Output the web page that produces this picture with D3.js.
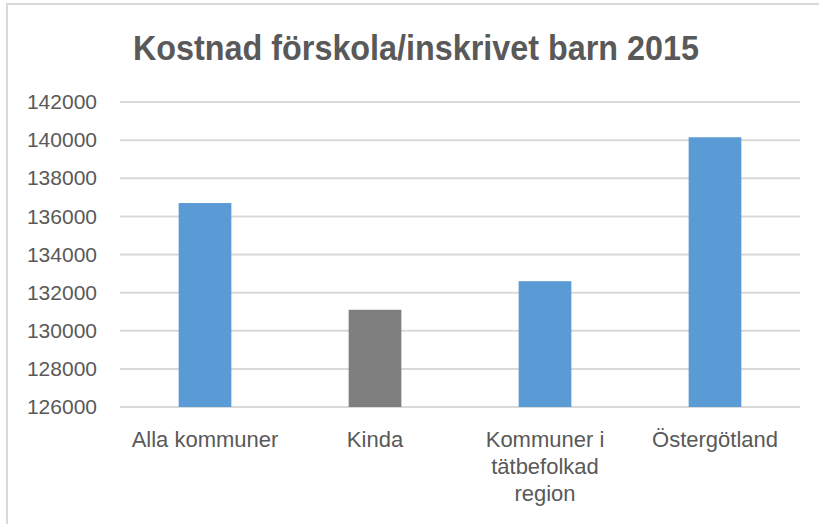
<!DOCTYPE html>
<html>
<head>
<meta charset="utf-8">
<script src="https://cdn.jsdelivr.net/npm/d3@7"></script>
<style>
  body { margin: 0; background: #fff; }
  .tick text { font-family: "Liberation Sans", Arial, sans-serif; font-size: 21px; fill: #595959; }
  .cat { font-family: "Liberation Sans", Arial, sans-serif; font-size: 22px; fill: #595959; }
  .title { font-family: "Liberation Sans", Arial, sans-serif; font-size: 35px; font-weight: bold; fill: #595959; }
</style>
</head>
<body>
<div id="chart"></div>
<script>
// Data
var categories = ["Alla kommuner", "Kinda", "Kommuner i tätbefolkad region", "Östergötland"];
var values = [136700, 131100, 132600, 140150];
var barColors = ["#5B9BD5", "#7F7F7F", "#5B9BD5", "#5B9BD5"];
var yTicks = [126000, 128000, 130000, 132000, 134000, 136000, 138000, 140000, 142000];
var title = "Kostnad förskola/inskrivet barn 2015";

var svgWidth = 819;
var svgHeight = 524;

var margin = { top: 102, right: 19, bottom: 117, left: 120 };
var width = svgWidth - margin.left - margin.right;
var height = svgHeight - margin.top - margin.bottom;

var svg = d3.select("#chart")
  .append("svg")
  .attr("width", svgWidth)
  .attr("height", svgHeight);

// chart frame (only top and left edges show)
svg.append("path")
  .attr("d", "M7,524 V4 H819")
  .attr("fill", "none")
  .attr("stroke", "#d9d9d9")
  .attr("stroke-width", 2);

// title is set in a narrow bold face in the original
svg.append("text")
  .attr("class", "title")
  .attr("x", 416)
  .attr("y", 60)
  .attr("text-anchor", "middle")
  .attr("textLength", 566)
  .attr("lengthAdjust", "spacingAndGlyphs")
  .text(title);

var chartGroup = svg.append("g")
  .attr("transform", `translate(${margin.left}, ${margin.top})`);

var xScale = d3.scaleBand()
  .domain(categories)
  .range([0, width])
  .paddingInner(0.69)
  .paddingOuter(0.345);

var yScale = d3.scaleLinear()
  .domain([126000, 142000])
  .range([height, 0]);

// gridlines
chartGroup.append("g")
  .selectAll("line")
  .data(yTicks)
  .enter()
  .append("line")
  .attr("x1", 0)
  .attr("x2", width)
  .attr("y1", d => yScale(d))
  .attr("y2", d => yScale(d))
  .attr("stroke", "#d9d9d9")
  .attr("stroke-width", 2);

// y axis labels
var leftAxis = d3.axisLeft(yScale)
  .tickValues(yTicks)
  .tickSize(0)
  .tickPadding(23)
  .tickFormat(d3.format("d"));

chartGroup.append("g")
  .call(leftAxis)
  .call(g => g.select(".domain").remove());

// bars
chartGroup.selectAll("rect")
  .data(values)
  .enter()
  .append("rect")
  .attr("x", (d, i) => xScale(categories[i]))
  .attr("y", d => yScale(d))
  .attr("width", xScale.bandwidth())
  .attr("height", d => height - yScale(d))
  .attr("fill", (d, i) => barColors[i]);

// category labels, wrapped
var labels = chartGroup.selectAll(".cat")
  .data(categories)
  .enter()
  .append("text")
  .attr("class", "cat")
  .attr("text-anchor", "middle")
  .attr("x", d => xScale(d) + xScale.bandwidth() / 2)
  .attr("y", height + 40);

labels.each(function(d) {
  var el = d3.select(this);
  var words = d.split(" ");
  var lines = [];
  var line = [];
  var tspan = el.append("tspan");
  words.forEach(function(w) {
    line.push(w);
    tspan.text(line.join(" "));
    if (tspan.node().getComputedTextLength() > 160 && line.length > 1) {
      line.pop();
      lines.push(line.join(" "));
      line = [w];
    }
  });
  lines.push(line.join(" "));
  tspan.remove();
  var x = el.attr("x");
  lines.forEach(function(l, i) {
    el.append("tspan")
      .attr("x", x)
      .attr("dy", i === 0 ? 0 : 27)
      .text(l);
  });
});
</script>
</body>
</html>
